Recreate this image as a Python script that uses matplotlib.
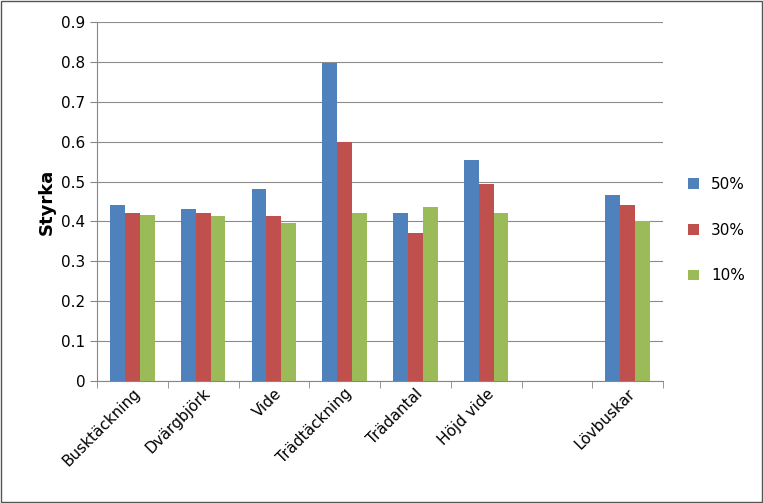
import matplotlib
matplotlib.use("Agg")
import matplotlib.pyplot as plt
import numpy as np

categories = ["Busktäckning", "Dvärgbjörk", "Vide", "Trädtäckning", "Trädantal", "Höjd vide", "", "Lövbuskar"]
s50 = [0.44, 0.43, 0.482, 0.797, 0.42, 0.553, np.nan, 0.467]
s30 = [0.42, 0.42, 0.413, 0.60, 0.37, 0.495, np.nan, 0.44]
s10 = [0.415, 0.413, 0.395, 0.42, 0.437, 0.42, np.nan, 0.40]
series = [("50%", s50, "#4F81BD"), ("30%", s30, "#C0504D"), ("10%", s10, "#9BBB59")]

fig = plt.figure(figsize=(7.63, 5.03), dpi=100)
ax = fig.add_axes([97/763, 1-381/503, (663-97)/763, (381-22)/503])
x = np.arange(len(categories))
w = 0.21
for i, (lab, vals, c) in enumerate(series):
    ax.bar(x + (i-1)*w, vals, w, color=c, label=lab, zorder=3)
ax.set_xlim(-0.5, len(categories)-0.5)
ax.set_ylim(0, 0.9)
ax.set_yticks(np.arange(0, 0.91, 0.1))
ax.set_yticklabels(["0"] + [f"{v:.1f}" for v in np.arange(0.1, 0.91, 0.1)], fontsize=11)
ax.yaxis.grid(True, color="#8c8c8c", linewidth=0.8, zorder=0)
ax.set_xticks(x)
ax.set_xticklabels(categories, rotation=45, ha="right", rotation_mode="anchor", fontsize=11)
ax.tick_params(axis="x", length=0)
ax.set_xticks(np.arange(-0.5, len(categories)), minor=True)
ax.tick_params(axis="x", which="minor", length=5, color="#878787")
ax.tick_params(axis="y", length=5, color="#878787")
for s in ["top", "right"]:
    ax.spines[s].set_visible(False)
for s in ["left", "bottom"]:
    ax.spines[s].set_color("#878787")
ax.set_ylabel("Styrka", fontsize=13, fontweight="bold")
ax.legend(loc="center left", bbox_to_anchor=(1.02, 0.42), frameon=False, fontsize=11, handlelength=0.7, handleheight=0.7, labelspacing=2.0)
fig.patches.append(plt.Rectangle((0.001, 0.001), 0.998, 0.998, transform=fig.transFigure, fill=False, edgecolor="#555555", linewidth=1))
fig.savefig("out.png", dpi=100)
